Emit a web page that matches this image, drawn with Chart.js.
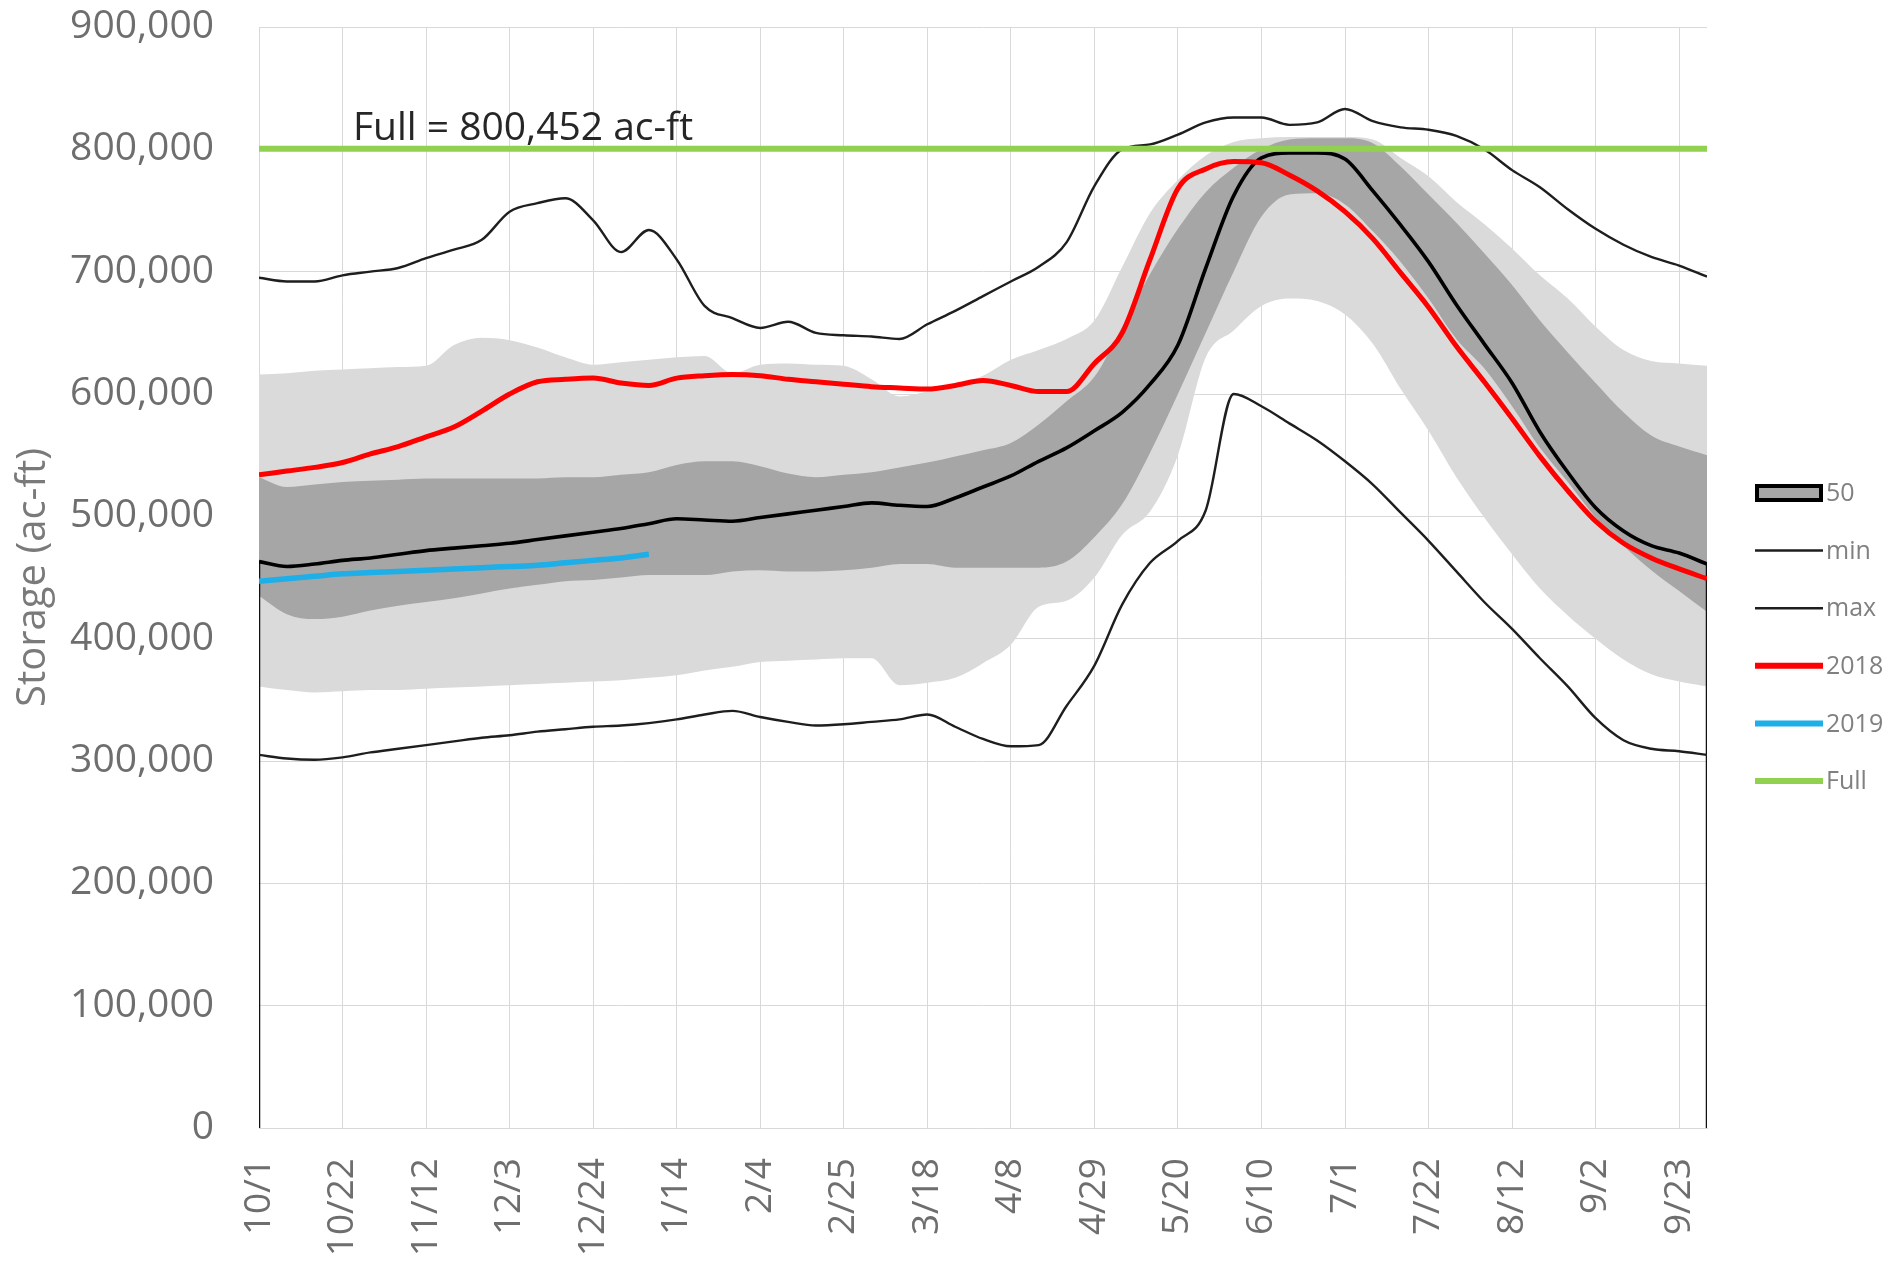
<!DOCTYPE html>
<html><head><meta charset="utf-8">
<script src="https://cdn.jsdelivr.net/npm/chart.js@4.4.1/dist/chart.umd.min.js"></script>
<style>html,body{margin:0;padding:0;background:#fff;}#wrap{width:1891px;height:1271px;}</style>
</head><body><div id="wrap"><canvas id="c" width="1891" height="1271"></canvas></div>
<script>
// x = day of water year (0 = 10/1), values in thousand ac-ft
const days = [0,7,14,21,28,35,42,49,56,63,70,77,84,91,98,105,112,119,126,133,140,147,154,161,168,175,182,189,196,203,210,217,224,231,238,245,252,259,266,273,280,287,294,301,308,315,322,329,336,343,350,357,364];
const tickDays = [0,21,42,63,84,105,126,147,168,189,210,231,252,273,294,315,336,357];
const tickLabels = ['10/1','10/22','11/12','12/3','12/24','1/14','2/4','2/25','3/18','4/8','4/29','5/20','6/10','7/1','7/22','8/12','9/2','9/23'];
const fullValue = 800452;

const maxK = [695,692,692,697,700,703,711,718,726,749,756,760,742,716,734,710,672,662,654,659,650,648,647,645,657,668,680,692,704,724,770,800,804,812,822,826,826,820,822,833,823,818,816,811,800,783,769,751,735,722,712,705,696];
const minK = [305,302,301,303,307,310,313,316,319,321,324,326,328,329,331,334,338,341,336,332,329,330,332,334,338,328,318,312,313,345,378,428,462,480,505,600,590,576,562,545,526,503,480,455,430,408,384,361,335,317,310,308,305];
const p50K = [463,459,461,464,466,469,472,474,476,478,481,484,487,490,494,498,497,496,499,502,505,508,511,509,508,515,524,533,545,556,570,585,608,640,703,762,793,797,797,792,766,738,708,673,641,609,569,536,507,488,476,470,461];
const y2018K = [534,537,540,544,551,557,565,573,586,600,610,612,613,609,607,613,615,616,615,612,610,608,606,605,604,607,611,607,602,602,625,650,710,768,784,790,789,779,766,749,727,699,671,639,610,580,549,521,496,478,466,457,449];
const y2019K = [447,449,451,453,454,455,456,457,458,459,460,462,464,466,469];
const p75K = [532,524,526,528,529,530,531,531,531,531,531,532,532,534,536,542,545,545,541,535,532,534,536,540,544,549,554,560,575,594,614,655,698,735,765,785,800,808,809,809,805,786,763,740,715,689,660,634,609,585,566,557,550];
const p25K = [435,420,416,418,423,427,430,433,437,441,444,447,448,450,452,452,452,455,456,455,455,456,458,461,461,458,458,458,458,463,483,510,552,600,650,700,745,763,764,755,733,708,678,645,621,590,556,528,499,476,456,439,422];
const p90K = [616,617,619,620,621,622,623,640,646,644,638,630,624,626,628,630,631,617,624,625,624,623,612,598,602,607,615,628,636,645,660,704,748,775,795,806,809,810,810,810,808,793,778,757,739,719,697,678,655,636,627,625,623];
const p10K = [361,358,356,357,358,358,359,360,361,362,363,364,365,366,368,370,374,377,381,382,383,384,384,362,364,368,380,395,426,431,450,485,504,550,630,652,672,678,676,665,641,604,570,532,499,469,441,419,400,383,371,365,361];

const toPts = arr => arr.map((v, i) => ({x: days[i], y: v * 1000}));
const lastDay = days[days.length - 1];

const base = {pointRadius: 0, pointHoverRadius: 0, cubicInterpolationMode: 'monotone', borderJoinStyle: 'round'};
const datasets = [
  Object.assign({}, base, {label: 'p10', data: toPts(p10K), borderWidth: 0, borderColor: 'rgba(0,0,0,0)', fill: false, order: 20}),
  Object.assign({}, base, {label: 'p90', data: toPts(p90K), borderWidth: 0, borderColor: 'rgba(0,0,0,0)', backgroundColor: '#dadada', fill: 0, order: 19}),
  Object.assign({}, base, {label: 'p25', data: toPts(p25K), borderWidth: 0, borderColor: 'rgba(0,0,0,0)', fill: false, order: 18}),
  Object.assign({}, base, {label: 'p75', data: toPts(p75K), borderWidth: 0, borderColor: 'rgba(0,0,0,0)', backgroundColor: '#a6a6a6', fill: 2, order: 17}),
  Object.assign({}, base, {label: 'edgeL', data: [{x: days[0], y: 0}, {x: days[0], y: p50K[0] * 1000}], borderColor: '#111', borderWidth: 2.5, fill: false, order: 6, cubicInterpolationMode: 'default', tension: 0}),
  Object.assign({}, base, {label: 'edgeR', data: [{x: lastDay, y: 0}, {x: lastDay, y: p50K[p50K.length - 1] * 1000}], borderColor: '#111', borderWidth: 2.5, fill: false, order: 6, cubicInterpolationMode: 'default', tension: 0}),
  Object.assign({}, base, {label: 'min', data: toPts(minK), borderColor: '#1e1e1e', borderWidth: 2.4, fill: false, order: 5}),
  Object.assign({}, base, {label: 'max', data: toPts(maxK), borderColor: '#1e1e1e', borderWidth: 2.4, fill: false, order: 5}),
  Object.assign({}, base, {label: '50', data: toPts(p50K), borderColor: '#000', borderWidth: 3.6, fill: false, order: 4}),
  Object.assign({}, base, {label: '2018', data: toPts(y2018K), borderColor: '#ff0000', borderWidth: 5, fill: false, order: 3}),
  Object.assign({}, base, {label: '2019', data: toPts(y2019K), borderColor: '#1eaee8', borderWidth: 5.5, fill: false, order: 2}),
  Object.assign({}, base, {label: 'Full', data: [{x: days[0], y: fullValue}, {x: lastDay, y: fullValue}], borderColor: '#92d050', borderWidth: 6, fill: false, order: 1, cubicInterpolationMode: 'default', tension: 0})
];

const legendEntries = ['50', 'min', 'max', '2018', '2019', 'Full'];

const overlay = {
  id: 'overlay',
  afterDraw(chart) {
    const ctx = chart.ctx;
    const xs = chart.scales.x, ys = chart.scales.y;
    // annotation for full pool
    ctx.save();
    ctx.font = '39px "Open Sans"';
    ctx.fillStyle = '#262626';
    ctx.textAlign = 'left';
    ctx.textBaseline = 'alphabetic';
    ctx.fillText('Full = 800,452 ac-ft', xs.getPixelForValue(23.6), ys.getPixelForValue(fullValue) - 9);
    ctx.restore();

    // legend
    const x0 = chart.chartArea.right + 48, x1 = x0 + 68, tx = x1 + 3;
    let y = 493;
    ctx.save();
    ctx.font = '25px "Open Sans"';
    ctx.textBaseline = 'middle';
    ctx.textAlign = 'left';
    legendEntries.forEach(lbl => {
      const ds = chart.data.datasets.find(d => d.label === lbl);
      if (lbl === '50') {
        ctx.fillStyle = '#a6a6a6';
        ctx.fillRect(x0 + 2, y - 7, x1 - x0 - 4, 14);
        ctx.lineWidth = 4;
        ctx.strokeStyle = '#000';
        ctx.strokeRect(x0 + 2, y - 7, x1 - x0 - 4, 14);
      } else {
        ctx.beginPath();
        ctx.moveTo(x0, y);
        ctx.lineTo(x1, y);
        ctx.strokeStyle = ds.borderColor;
        ctx.lineWidth = (lbl === 'min' || lbl === 'max') ? 2.5 : 6;
        ctx.stroke();
      }
      ctx.fillStyle = '#808080';
      ctx.fillText(lbl, tx, y + 1);
      y += 57.6;
    });
    ctx.restore();
  }
};

const tickColor = '#6e6e6e';
new Chart(document.getElementById('c'), {
  type: 'line',
  data: {datasets},
  options: {
    responsive: false,
    animation: false,
    layout: {padding: {top: 27, right: 184, left: 0, bottom: 0}},
    plugins: {legend: {display: false}, tooltip: {enabled: false}},
    scales: {
      x: {
        type: 'linear', min: 0, max: lastDay,
        afterBuildTicks: s => { s.ticks = tickDays.map(v => ({value: v})); },
        afterFit: s => { s.height = 143; s.paddingLeft = 0; s.paddingRight = 0; },
        ticks: {
          autoSkip: false, maxRotation: 90, minRotation: 90, padding: 30,
          color: tickColor, font: {family: 'Open Sans', size: 37},
          callback: v => tickLabels[tickDays.indexOf(v)]
        },
        grid: {color: '#d9d9d9', lineWidth: 1, drawTicks: false},
        border: {color: '#d9d9d9'}
      },
      y: {
        min: 0, max: 900000,
        afterFit: s => { s.width = 259; s.paddingTop = 0; s.paddingBottom = 0; },
        ticks: {
          stepSize: 100000, padding: 45, color: tickColor,
          font: {family: 'Open Sans', size: 39},
          callback: v => v.toLocaleString('en-US')
        },
        grid: {color: '#d9d9d9', lineWidth: 1, drawTicks: false},
        border: {color: '#d9d9d9'},
        title: {display: true, text: 'Storage (ac-ft)', color: '#7a7a7a', font: {family: 'Open Sans', size: 40}, padding: {top: 10, bottom: 0}}
      }
    }
  },
  plugins: [overlay]
});
</script></body></html>
